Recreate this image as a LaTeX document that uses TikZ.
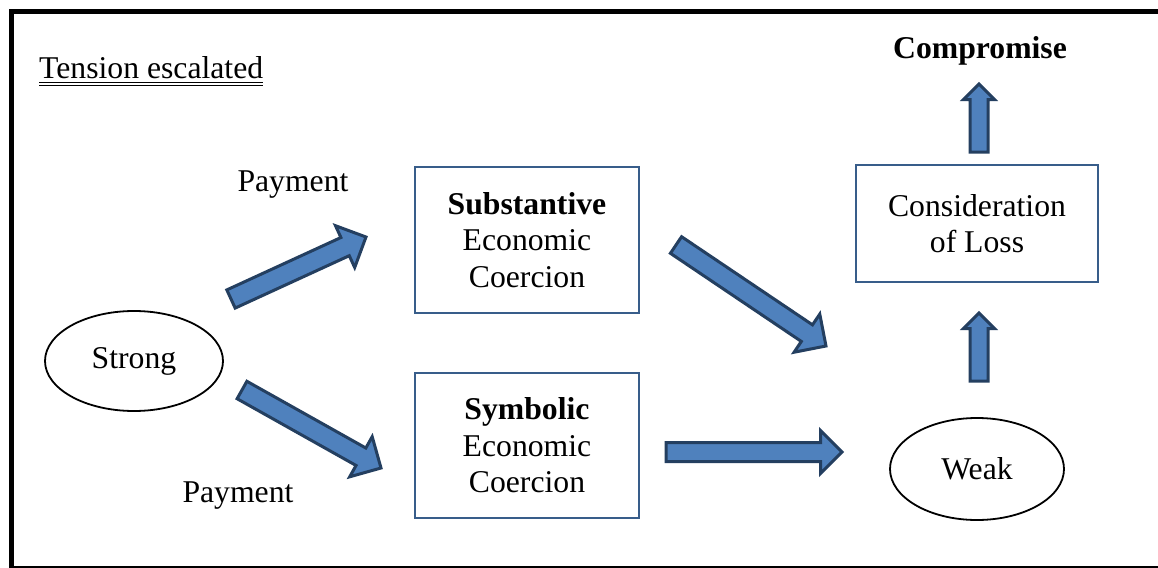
\documentclass[tikz,border=0pt]{standalone}
\usepackage{fontspec}
\setmainfont{Liberation Serif}
\usetikzlibrary{shapes.arrows,shapes.geometric,calc}
\definecolor{arrowfill}{HTML}{4F81BD}
\definecolor{arrowline}{HTML}{243F60}
\definecolor{boxline}{HTML}{385D8A}

\tikzset{
  lbl/.style={font=\fontsize{31.7}{36.5}\selectfont, inner sep=0pt},
  box/.style={lbl, draw=boxline, line width=1.5pt, align=center},
  oval/.style={lbl, draw=black, line width=1.8pt, ellipse},
  fat/.style={single arrow, draw=arrowline, fill=arrowfill, line width=3pt,
    single arrow head indent=0pt, outer sep=0pt, inner sep=8pt,
    single arrow head extend=12pt, anchor=tail},
  slim/.style={inner sep=7.5pt, single arrow head extend=6.5pt},
  wide/.style={inner sep=8.5pt, single arrow head extend=13pt},
}

% block arrow from tail coordinate #2 to tip coordinate #3
\newcommand\fatarrow[3][]{%
  \path let \p1=($(#3)-(#2)$), \n1={atan2(\y1,\x1)}, \n2={veclen(\x1,\y1)} in
    node[fat,#1,rotate=\n1,minimum height=\n2] at (#2) {};}

\begin{document}
\begin{tikzpicture}[x=1pt,y=-1pt]
  \useasboundingbox (0,0) rectangle (1158,567);
  \clip (0,0) rectangle (1158,567);
  \fill[white] (0,0) rectangle (1158,567);

  % outer frame
  \draw[line width=5pt] (11.5,11.5) rectangle (1185,568.5);

  % title
  \node[lbl, anchor=base west] (tension) at (39,79) {Tension escalated};
  \draw[line width=0.9pt] ([yshift=-3pt]tension.base west) -- ([yshift=-3pt]tension.base east);
  \draw[line width=0.9pt] ([yshift=-6pt]tension.base west) -- ([yshift=-6pt]tension.base east);

  % actors
  \node[oval, minimum width=178, minimum height=100] (strong) at (134,361) {Strong};
  \node[oval, minimum width=174, minimum height=102] (weak) at (977,469) {Weak};

  % coercion types
  \node[box, minimum width=224, minimum height=146] (subst) at (527,240)
    {\textbf{Substantive}\\Economic\\Coercion};
  \node[box, minimum width=224, minimum height=145] (symb) at (527,445.5)
    {\textbf{Symbolic}\\Economic\\Coercion};

  % outcome
  \node[box, minimum width=242, minimum height=117] (loss) at (977,223.5)
    {Consideration\\of Loss};
  \node[lbl, anchor=base, font=\fontsize{31.7}{36.5}\selectfont\bfseries] (comp) at (980,59) {Compromise};

  % arrow labels
  \node[lbl, anchor=base] (pay1) at (293,191) {Payment};
  \node[lbl, anchor=base] (pay2) at (238,502) {Payment};

  % arrow ends
  \coordinate (a1t) at (231,299);  \coordinate (a1h) at (366,237);
  \coordinate (a2t) at (676,245);  \coordinate (a2h) at (826,346);
  \coordinate (a3t) at (242,390);  \coordinate (a3h) at (381,468);
  \coordinate (a4t) at (666,452);  \coordinate (a4h) at (842,452);
  \coordinate (a5t) at (979,381);  \coordinate (a5h) at (979,313);
  \coordinate (a6t) at (979,152);  \coordinate (a6h) at (979,84);

  \fatarrow[wide]{a1t}{a1h}
  \fatarrow[wide]{a2t}{a2h}
  \fatarrow[wide]{a3t}{a3h}
  \fatarrow{a4t}{a4h}
  \fatarrow[slim]{a5t}{a5h}
  \fatarrow[slim]{a6t}{a6h}
\end{tikzpicture}
\end{document}
